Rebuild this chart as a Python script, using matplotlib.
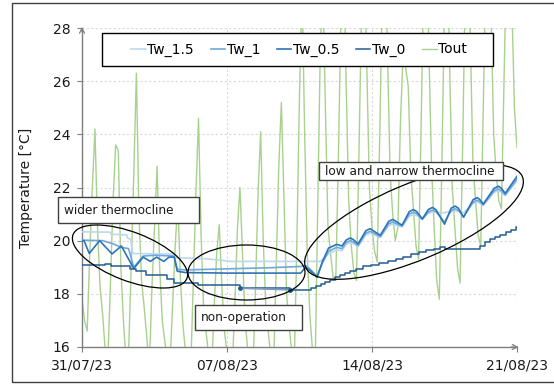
import numpy as np
import pandas as pd
import matplotlib
matplotlib.use('Agg')
import matplotlib.pyplot as plt
import matplotlib.dates as mdates
from matplotlib.patches import Ellipse, Rectangle

# Dados: (dia desde 31/07/23 00:00, temperatura)
inicio = pd.Timestamp('2023-07-31')

tw_15 = [(0, 20.33), (1.35, 20.32), (1.4, 20.24), (2.15, 20.22), (2.2, 20.1), (2.35, 20.05),
         (2.45, 19.52), (3.5, 19.5), (4.45, 19.5), (4.55, 19.36), (6.0, 19.32), (7.2, 19.22),
         (9.0, 19.22), (11.5, 19.22), (11.9, 19.5), (12.3, 19.65), (12.55, 19.62), (12.75, 19.86),
         (12.95, 19.92), (13.1, 19.88), (13.33, 19.78), (13.7, 20.22), (13.9, 20.28), (14.05, 20.24),
         (14.4, 20.12), (14.8, 20.56), (15.0, 20.62), (15.15, 20.58), (15.45, 20.52), (15.8, 20.92),
         (16.0, 20.98), (16.15, 20.95), (16.43, 20.82), (16.72, 21.03), (16.92, 21.08), (17.1, 21.06),
         (17.5, 21.05), (17.82, 21.1), (18.02, 21.12), (18.17, 21.1), (18.42, 21.05), (18.88, 21.4),
         (19.08, 21.45), (19.2, 21.41), (19.37, 21.32), (19.9, 21.82), (20.1, 21.88), (20.25, 21.82),
         (20.43, 21.7), (21.0, 22.25)]

tw_1 = [(0, 20.02), (1.0, 20.0), (1.5, 19.88), (1.9, 19.75), (2.25, 19.7), (2.5, 19.0), (2.95, 19.42),
        (3.5, 19.45), (4.45, 19.42), (4.6, 18.92), (5.0, 18.9), (7.0, 18.94), (9.0, 18.98),
        (10.55, 19.03), (10.8, 19.06), (11.05, 18.9), (11.35, 18.66), (11.6, 19.15), (11.9, 19.6),
        (12.3, 19.75), (12.55, 19.7), (12.75, 19.93), (12.95, 20.0), (13.1, 19.95), (13.33, 19.82),
        (13.7, 20.28), (13.9, 20.35), (14.05, 20.3), (14.4, 20.15), (14.8, 20.63), (15.0, 20.7),
        (15.15, 20.65), (15.45, 20.55), (15.8, 21.0), (16.0, 21.07), (16.15, 21.02), (16.43, 20.8),
        (16.72, 21.08), (16.92, 21.15), (17.1, 21.08), (17.5, 20.7), (17.82, 21.13), (18.02, 21.2),
        (18.17, 21.14), (18.42, 20.9), (18.88, 21.45), (19.08, 21.52), (19.2, 21.47), (19.37, 21.35),
        (19.9, 21.88), (20.1, 21.95), (20.25, 21.88), (20.43, 21.72), (21.0, 22.32)]

tw_05 = [(0, 20.0), (0.1, 20.0), (0.35, 19.52), (0.85, 20.0), (1.45, 19.5), (1.9, 19.8), (2.5, 18.95),
         (2.95, 19.38), (3.3, 19.22), (3.6, 19.38), (3.95, 19.22), (4.2, 19.38), (4.45, 19.38),
         (4.6, 18.85), (5.0, 18.8), (7.0, 18.78), (10.55, 18.78), (10.8, 19.0), (11.05, 18.85),
         (11.35, 18.62), (11.6, 19.2), (11.9, 19.72), (12.3, 19.86), (12.55, 19.8), (12.75, 20.02),
         (12.95, 20.1), (13.1, 20.04), (13.33, 19.88), (13.7, 20.37), (13.9, 20.45), (14.05, 20.38),
         (14.4, 20.2), (14.8, 20.72), (15.0, 20.8), (15.15, 20.73), (15.45, 20.58), (15.8, 21.09),
         (16.0, 21.17), (16.15, 21.1), (16.43, 20.82), (16.72, 21.17), (16.92, 21.25), (17.1, 21.15),
         (17.5, 20.62), (17.82, 21.22), (18.02, 21.3), (18.17, 21.22), (18.42, 20.88), (18.88, 21.54),
         (19.08, 21.62), (19.2, 21.55), (19.37, 21.38), (19.9, 21.97), (20.1, 22.05), (20.25, 21.97),
         (20.43, 21.78), (21.0, 22.42)]

# Tw_0 em degraus
tw_0 = [(0, 19.08), (1.1, 19.12), (1.4, 19.04), (2.3, 18.92), (2.6, 18.85), (3.1, 18.72), (4.1, 18.55),
        (4.45, 18.42), (5.6, 18.33), (7.63, 18.21), (10.05, 18.15), (10.8, 18.15), (11.05, 18.22),
        (11.3, 18.28), (11.55, 18.36), (11.75, 18.45), (11.95, 18.53), (12.2, 18.62), (12.45, 18.7),
        (12.7, 18.78), (12.95, 18.86), (13.25, 18.95), (13.55, 19.03), (13.95, 19.08), (14.35, 19.16),
        (14.75, 19.23), (15.15, 19.3), (15.5, 19.4), (15.9, 19.48), (16.25, 19.57), (16.6, 19.65),
        (17.0, 19.7), (17.3, 19.78), (17.5, 19.7), (19.2, 19.8), (19.45, 19.95), (19.7, 20.05),
        (19.95, 20.12), (20.2, 20.22), (20.45, 20.32), (20.7, 20.42), (20.95, 20.53), (21.0, 20.53)]

# Tout a cada 3 h (0h, 3h, ..., 21h) por dia
tout_dias = [
    [17.8, 17.0, 16.6, 19.5, 22.0, 24.2, 20.5, 18.2],
    [17.2, 15.8, 15.6, 18.4, 21.5, 23.6, 23.4, 19.0],
    [17.0, 15.5, 15.8, 19.0, 22.5, 26.3, 21.0, 18.5],
    [17.5, 16.4, 15.2, 18.2, 20.5, 22.8, 19.0, 17.0],
    [16.2, 15.5, 15.4, 17.6, 19.8, 21.5, 18.6, 16.8],
    [15.8, 15.0, 15.2, 18.5, 21.8, 24.6, 20.2, 17.4],
    [16.5, 15.6, 15.0, 17.4, 19.5, 20.6, 18.3, 16.6],
    [15.8, 15.3, 15.2, 17.5, 20.4, 22.0, 19.5, 17.0],
    [15.9, 15.1, 15.0, 18.2, 21.8, 24.1, 20.0, 17.5],
    [16.5, 15.6, 15.2, 19.0, 22.8, 25.2, 21.6, 18.0],
    [16.8, 15.8, 15.5, 20.0, 25.5, 29.5, 24.0, 19.5],
    [17.2, 15.9, 15.0, 21.0, 27.0, 30.0, 25.0, 20.5],
    [19.5, 18.6, 18.5, 23.0, 28.5, 31.0, 26.0, 21.5],
    [19.8, 18.8, 18.5, 23.5, 29.0, 31.5, 26.5, 22.0],
    [20.5, 19.6, 19.2, 24.0, 29.5, 32.0, 27.0, 22.5],
    [21.0, 20.0, 20.5, 24.5, 27.0, 26.5, 25.8, 22.5],
    [21.2, 19.8, 19.3, 24.5, 30.0, 32.0, 27.0, 22.8],
    [20.5, 18.5, 17.8, 23.0, 29.0, 31.5, 26.5, 22.0],
    [20.5, 19.0, 18.4, 23.5, 29.5, 32.0, 27.5, 22.8],
    [21.5, 20.2, 19.8, 25.0, 30.5, 33.0, 28.5, 24.0],
    [22.5, 21.5, 21.2, 26.0, 31.0, 33.5, 29.0, 25.0],
]
tout = [v for dia in tout_dias for v in dia] + [23.5]

ticks_y = [16, 18, 20, 22, 24, 26, 28]
ticks_x = ['2023-07-31', '2023-08-07', '2023-08-14', '2023-08-21']
nomes = ['Tw_1.5', 'Tw_1', 'Tw_0.5', 'Tw_0', 'Tout']


def serie(pares):
    dias, valores = zip(*pares)
    return inicio + pd.to_timedelta(np.array(dias), unit='D'), np.array(valores)


plt.rcParams['font.family'] = 'DejaVu Sans'
fig = plt.figure(figsize=(5.54, 3.85), dpi=100)
ax = fig.add_axes([82 / 554, 1 - 347 / 385, 435 / 554, 319 / 385])
tr = fig.dpi_scale_trans

t_out = inicio + pd.to_timedelta(np.arange(len(tout)) * 3, unit='h')
l_out, = ax.plot(t_out, tout, color='#a9d18e', lw=1.0, zorder=2)
l15, = ax.plot(*serie(tw_15), color='#bdd7ee', lw=1.2, zorder=3)
l1, = ax.plot(*serie(tw_1), color='#6fa8dc', lw=1.2, zorder=4)
l05, = ax.plot(*serie(tw_05), color='#2e75b6', lw=1.2, zorder=5)
t0, v0 = serie(tw_0)
l0, = ax.plot(t0, v0, color='#255e91', lw=1.1, drawstyle='steps-post', zorder=5)
# trecho sem leitura do Tw_0
ax.plot(t0[9:11], v0[9:11], color='#7e9bbd', lw=1.2, marker='o', ms=2.5,
        mfc='#255e91', mec='#255e91', zorder=6)

ax.set_ylim(16, 28)
ax.set_xlim(pd.Timestamp(ticks_x[0]), pd.Timestamp(ticks_x[-1]))
ax.set_yticks(ticks_y)
ax.set_xticks(pd.to_datetime(ticks_x))
ax.xaxis.set_major_formatter(mdates.DateFormatter('%d/%m/%y'))
ax.grid(True, color='#d9d9d9', ls=(0, (2, 2)), lw=0.8, zorder=0)
ax.set_axisbelow(True)
for lado in ['top', 'right']:
    ax.spines[lado].set_visible(False)
for lado in ['left', 'bottom']:
    ax.spines[lado].set_color('#7f7f7f')
    ax.spines[lado].set_linewidth(1.0)
ax.tick_params(direction='out', length=3.5, color='#7f7f7f', labelsize=10, labelcolor='#1a1a1a', pad=5)
ax.set_ylabel('Temperature [°C]', fontsize=10, color='#1a1a1a')
ax.yaxis.set_label_coords(-0.113, 0.5)

# setas nos eixos
seta = dict(arrowstyle='->,head_length=0.35,head_width=0.18', color='#7f7f7f', lw=0.9)
ax.annotate('', xy=(0, 1.012), xytext=(0, 0.98), xycoords='axes fraction', arrowprops=seta,
            annotation_clip=False)
ax.annotate('', xy=(1.01, 0), xytext=(0.98, 0), xycoords='axes fraction', arrowprops=seta,
            annotation_clip=False)

# legenda com moldura própria (polegadas)
ax.add_patch(Rectangle((1.02, 3.19), 3.91, 0.33, transform=tr, fc='white', ec='black', lw=1.0,
                       zorder=10, clip_on=False))
leg = ax.legend([l15, l1, l05, l0, l_out], nomes, ncol=5, loc='center',
                bbox_to_anchor=(0.499, 0.9326), fontsize=10, handlelength=1.05, handletextpad=0.1,
                columnspacing=1.2, frameon=False, borderaxespad=0, borderpad=0)
leg.set_zorder(11)

# elipses e caixas (coordenadas em polegadas na figura)
for cx, cy, w, h, ang in [(1.30, 1.285, 1.22, 0.486, -21), (2.465, 1.125, 1.17, 0.55, 0),
                          (4.14, 1.63, 2.35, 0.76, 22.7)]:
    fig.add_artist(Ellipse((cx, cy), w, h, angle=ang, transform=tr, fill=False,
                           ec='black', lw=0.9, zorder=8))

for x0, y0, w, h, texto in [(0.58, 1.62, 1.41, 0.26, 'wider thermocline'),
                            (1.95, 0.55, 1.07, 0.25, 'non-operation'),
                            (3.19, 2.05, 1.84, 0.18, 'low and narrow thermocline')]:
    fig.add_artist(Rectangle((x0, y0), w, h, transform=tr, fc='white', ec='#404040', lw=1.0, zorder=9))
    fig.text(x0 + 0.06, y0 + h / 2, texto, transform=tr, fontsize=8.7, va='center', ha='left',
             color='#1a1a1a', zorder=10)

# moldura
fig.add_artist(Rectangle((0.12, 0.03), 5.5, 3.79, transform=tr, fill=False, ec='#404040', lw=1.0))

plt.savefig('out.png', dpi=100)
